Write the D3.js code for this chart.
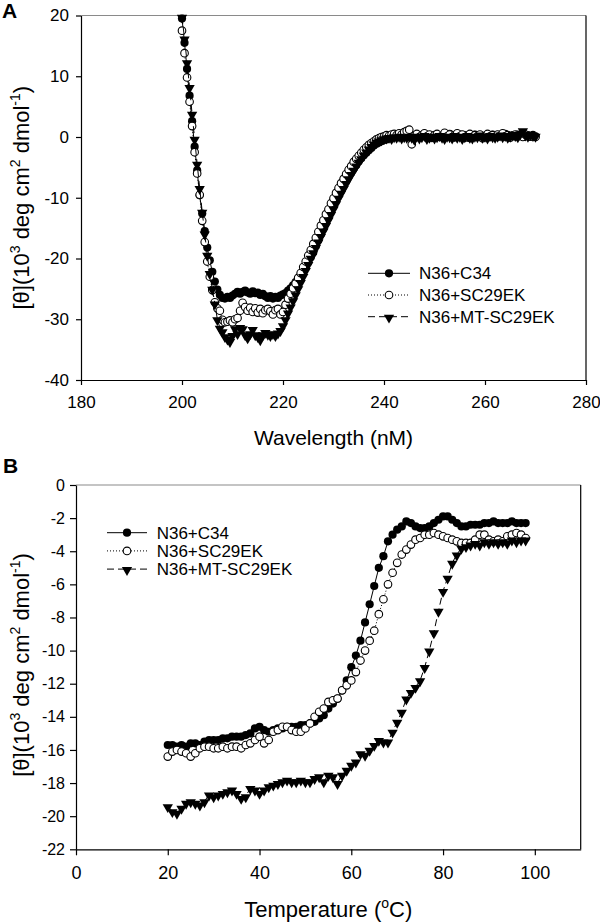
<!DOCTYPE html>
<html><head><meta charset="utf-8">
<script src="https://cdn.jsdelivr.net/npm/d3@7"></script>
<style>
body{margin:0;background:#fff}
svg{display:block}
text{font-family:"Liberation Sans",Arial,Helvetica,sans-serif;fill:#000}
</style>
</head><body>
<svg id="chart" width="600" height="923"></svg>
<script>
// ---------------- DATA ----------------
const seriesNames = ["N36+C34", "N36+SC29EK", "N36+MT-SC29EK"];

// Panel A: CD spectra
const wavelength = [
200,200.5,201,201.5,202,202.5,203,203.5,204,204.5,
205,205.5,206,206.5,207,207.5,208,208.5,209,209.5,
210,210.5,211,211.5,212,212.5,213,213.5,214,214.5,
215,215.5,216,216.5,217,217.5,218,218.5,219,219.5,
220,220.5,221,221.5,222,222.5,223,223.5,224,224.5,
225,225.5,226,226.5,227,227.5,228,228.5,229,229.5,
230,230.5,231,231.5,232,232.5,233,233.5,234,234.5,
235,235.5,236,236.5,237,237.5,238,238.5,239,239.5,
240,240.5,241,241.5,242,242.5,243,243.5,244,244.5,
245,245.5,246,246.5,247,247.5,248,248.5,249,249.5,
250,250.5,251,251.5,252,252.5,253,253.5,254,254.5,
255,255.5,256,256.5,257,257.5,258,258.5,259,259.5,
260,260.5,261,261.5,262,262.5,263,263.5,264,264.5,
265,265.5,266,266.5,267,267.5,268,268.5,269,269.5,
270];
const cdC34 = [
19.5,15.5,11.2,6.8,2.6,-1.6,-5.5,-9.6,-12.6,-15.5,-18.2,-20.3,-22.2,-23.8,-25.1,-26.0,-26.5,
-26.6,-26.3,-26.5,-26.1,-25.8,-25.5,-25.8,-25.5,-25.3,-25.6,-25.8,-25.4,-25.7,-25.6,-26.0,-25.8,-26.2,-26.5,-26.2,-26.6,-26.3,-26.5,-26.1,-25.9,
-25.7,-25.3,-24.9,-24.4,-23.9,-23.4,-22.8,-22.1,-21.4,-20.6,
-19.8,-19.0,-18.0,-17.0,-16.0,-15.0,-14.0,-13.0,-12.0,-11.0,
-10.2,-9.3,-8.5,-7.8,-7.1,-6.4,-5.8,-5.2,-4.6,-4.0,
-3.5,-3.0,-2.6,-2.2,-1.8,-1.4,-1.1,-0.9,-0.7,-0.5,
-0.4,-0.2,-0.1,0.0,0.1,0.2,0.1,0.3,0.2,0.4,
0.3,0.1,0.4,0.0,0.2,0.5,0.1,0.3,-0.1,0.2,
0.4,0.1,0.0,0.3,0.2,0.5,0.1,-0.1,0.2,0.4,
0.0,0.3,0.1,-0.2,0.2,0.4,0.1,0.3,0.0,0.2,
-0.1,0.1,0.4,0.2,0.0,0.3,0.1,0.5,0.2,0.0,
0.3,0.1,0.4,0.2,0.6,0.1,0.3,0.0,0.2,0.1];
const cdSC29EK = [
17.5,13.8,9.8,5.8,1.8,-2.5,-6.0,-9.5,-13.8,-17.3,-20.5,-23.0,-25.2,-27.2,-28.2,-28.6,-30.1,
-30.5,-30.4,-30.2,-30.5,-30.0,-29.8,-28.6,-27.3,-28.0,-28.6,-28.1,-28.8,-28.2,-28.9,-28.3,-29.0,-28.5,-28.3,-28.7,-29.2,-28.5,-28.3,-29.2,-28.8,
-27.6,-26.6,-25.8,-24.9,-24.1,-23.2,-22.4,-21.4,-20.5,-19.5,
-18.6,-17.6,-16.6,-15.6,-14.6,-13.7,-12.7,-11.9,-10.9,-10.1,
-9.2,-8.4,-7.6,-6.9,-6.1,-5.4,-4.8,-4.1,-3.6,-3.1,
-2.6,-2.1,-1.7,-1.3,-1.0,-0.7,-0.4,-0.2,0.0,0.1,
0.3,0.2,0.4,0.5,0.3,0.6,0.4,0.8,1.0,1.2,
-1.2,0.2,0.5,0.0,0.3,0.6,0.1,0.4,-0.1,0.3,
0.5,0.0,0.2,0.7,0.1,0.4,0.0,0.3,0.6,0.1,
0.4,-0.1,0.2,0.5,0.0,0.3,0.1,0.4,-0.2,0.2,
0.5,0.1,0.3,0.0,0.4,0.2,0.6,0.1,0.3,-0.1,
0.2,0.4,0.1,0.3,0.0,0.4,0.2,0.1,0.3,0.0];
const cdMT = [
19.8,16.2,12.3,8.2,3.8,-0.3,-4.4,-8.4,-12.3,-15.9,-19.4,-22.4,-25.0,-27.4,-30.0,-31.4,-32.0,
-32.8,-33.2,-33.6,-32.6,-31.5,-32.3,-31.3,-31.5,-32.5,-33.0,-32.3,-31.6,-32.5,-32.8,-33.3,-32.5,-32.1,-32.4,-32.6,-32.3,-32.6,-32.2,-31.8,-31.0,
-30.0,-28.9,-27.9,-26.9,-25.9,-24.9,-23.9,-22.9,-21.9,-20.9,
-19.9,-19.0,-18.1,-17.2,-16.3,-15.4,-14.5,-13.6,-12.7,-11.8,
-10.9,-10.0,-9.2,-8.4,-7.6,-6.8,-6.1,-5.4,-4.7,-4.1,
-3.5,-2.9,-2.4,-1.9,-1.5,-1.1,-0.8,-0.6,-0.4,-0.2,
-0.1,0.0,-0.2,0.1,0.0,0.2,-0.1,0.1,0.0,0.2,
0.0,-0.3,0.2,-0.1,0.1,0.3,-0.2,0.0,0.2,-0.1,
0.1,0.3,0.0,-0.2,0.2,0.1,-0.1,0.3,0.0,0.2,
-0.2,0.1,0.3,0.0,-0.1,0.2,0.1,0.4,0.0,0.2,
-0.1,0.3,0.1,0.0,0.2,0.4,0.1,0.3,0.0,0.2,
0.5,0.3,0.1,0.6,1.1,0.4,0.2,0.5,0.3,0.2];

// Panel B: thermal melts
const temperature = [
20,21,22,23,24,25,26,27,28,29,
30,31,32,33,34,35,36,37,38,39,
40,41,42,43,44,45,46,47,48,49,
50,51,52,53,54,55,56,57,58,59,
60,61,62,63,64,65,66,67,68,69,
70,71,72,73,74,75,76,77,78,79,
80,81,82,83,84,85,86,87,88,89,
90,91,92,93,94,95,96,97,98];
const meltC34 = [
-15.7,-15.7,-15.8,-15.7,-15.8,-15.6,-15.6,-15.7,-15.5,-15.4,
-15.4,-15.4,-15.3,-15.3,-15.2,-15.2,-15.2,-15.1,-15.0,-14.7,
-14.6,-14.8,-14.9,-14.8,-14.7,-14.7,-14.6,-14.6,-14.6,-14.5,
-14.5,-14.4,-14.3,-14.1,-13.9,-13.5,-13.2,-12.9,-12.4,-11.8,
-11.0,-10.3,-9.4,-8.3,-7.2,-6.1,-5.0,-4.3,-3.4,-3.0,
-2.7,-2.5,-2.2,-2.3,-2.5,-2.6,-2.6,-2.5,-2.3,-2.1,
-1.9,-1.9,-2.1,-2.3,-2.5,-2.5,-2.4,-2.4,-2.4,-2.3,
-2.3,-2.2,-2.3,-2.3,-2.3,-2.2,-2.3,-2.3,-2.3];
const meltSC29EK = [
-16.4,-16.1,-16.0,-16.1,-16.2,-16.4,-16.2,-15.9,-15.8,-15.8,
-15.9,-15.9,-15.8,-15.9,-15.8,-15.8,-15.9,-15.7,-15.6,-15.4,
-15.2,-15.6,-15.4,-14.9,-14.8,-14.6,-14.6,-14.8,-14.9,-14.9,
-14.7,-14.4,-14.0,-13.7,-13.5,-13.1,-13.0,-12.9,-12.4,-12.1,
-11.8,-11.3,-10.6,-10.0,-9.4,-8.8,-7.8,-6.9,-6.0,-5.3,
-4.7,-4.2,-3.9,-3.6,-3.3,-3.2,-3.0,-3.0,-2.9,-3.0,
-3.1,-3.2,-3.3,-3.4,-3.5,-3.5,-3.5,-3.3,-3.0,-3.0,
-3.3,-3.4,-3.3,-3.4,-3.1,-3.0,-2.9,-3.0,-3.2];
const meltMT = [
-19.4,-19.7,-19.8,-19.5,-19.2,-19.1,-19.2,-19.3,-19.1,-18.7,
-18.8,-18.7,-18.6,-18.5,-18.4,-18.6,-18.9,-18.8,-18.3,-18.4,
-18.6,-18.4,-18.2,-18.1,-18.0,-17.9,-17.8,-17.9,-17.9,-17.8,
-17.9,-17.9,-17.7,-17.6,-17.9,-17.5,-17.6,-18.0,-17.5,-17.2,
-16.9,-16.7,-16.2,-16.3,-16.0,-15.7,-15.4,-15.5,-15.5,-14.9,
-14.3,-13.7,-12.9,-12.5,-12.2,-11.8,-11.0,-10.0,-8.9,-7.6,
-6.4,-5.6,-4.7,-4.2,-3.8,-3.7,-3.6,-3.5,-3.6,-3.4,
-3.5,-3.4,-3.5,-3.4,-3.5,-3.3,-3.4,-3.3,-3.3];

// Tick values
const aXTicks = [180, 200, 220, 240, 260, 280];
const aYTicks = [-40, -30, -20, -10, 0, 10, 20];
const bXTicks = [0, 20, 40, 60, 80, 100];
const bYTicks = [-22, -20, -18, -16, -14, -12, -10, -8, -6, -4, -2, 0];

// ---------------- DRAWING ----------------
const svg = d3.select("#chart");
const font = '"Liberation Sans",Arial,Helvetica,sans-serif';
const styles = [
  {marker: "filled", dash: null},
  {marker: "open", dash: "1,2"},
  {marker: "tri", dash: "7,4"}
];
const triPath = d3.symbol(d3.symbolTriangle, 46)();

function drawMarker(g, kind, x, y) {
  if (kind === "filled") {
    g.append("circle").attr("cx", x).attr("cy", y).attr("r", 4.1).attr("fill", "#000");
  } else if (kind === "open") {
    g.append("circle").attr("cx", x).attr("cy", y).attr("r", 3.8)
      .attr("fill", "#fff").attr("stroke", "#000").attr("stroke-width", 1.1);
  } else {
    g.append("path").attr("d", triPath)
      .attr("transform", `translate(${x},${y + 0.9}) rotate(180)`).attr("fill", "#000");
  }
}

function addYTitle(x, y, size) {
  const t = svg.append("text").attr("transform", `translate(${x},${y}) rotate(-90)`)
    .attr("text-anchor", "middle").attr("font-size", size);
  const sup = Math.round(size * 0.62), up = Math.round(size * 0.42);
  t.append("tspan").text("[θ](10");
  t.append("tspan").attr("font-size", sup).attr("dy", -up).text("3");
  t.append("tspan").attr("dy", up).text(" deg cm");
  t.append("tspan").attr("font-size", sup).attr("dy", -up).text("2");
  t.append("tspan").attr("dy", up).text(" dmol");
  t.append("tspan").attr("font-size", sup).attr("dy", -up).text("-1");
  t.append("tspan").attr("dy", up).text(")");
}

function panel(cfg) {
  const x = d3.scaleLinear().domain(cfg.xDomain).range([cfg.left, cfg.right]);
  const y = d3.scaleLinear().domain(cfg.yDomain).range([cfg.bottom, cfg.top]);
  const g = svg.append("g");

  // frame: top (grey) and right (black)
  g.append("line").attr("x1", cfg.left).attr("x2", cfg.right).attr("y1", cfg.top).attr("y2", cfg.top)
    .attr("stroke", "#8a8a8a").attr("stroke-width", 1.2);
  g.append("line").attr("x1", cfg.right).attr("x2", cfg.right).attr("y1", cfg.top).attr("y2", cfg.bottom)
    .attr("stroke", "#000").attr("stroke-width", 1.2);

  const fmt = d => String(d);
  const xa = g.append("g").attr("transform", `translate(0,${cfg.bottom})`)
    .call(d3.axisBottom(x).tickValues(cfg.xTicks).tickFormat(fmt).tickSizeInner(cfg.tick).tickSizeOuter(0).tickPadding(cfg.xPad));
  const ya = g.append("g").attr("transform", `translate(${cfg.left},0)`)
    .call(d3.axisLeft(y).tickValues(cfg.yTicks).tickFormat(fmt).tickSizeInner(cfg.tick).tickSizeOuter(0).tickPadding(cfg.yPad));
  [xa, ya].forEach(a => {
    a.attr("font-family", font);
    a.selectAll("path,line").attr("stroke", "#000").attr("stroke-width", 1.2);
  });
  xa.attr("font-size", cfg.xTickSize);
  ya.attr("font-size", cfg.yTickSize);

  // series
  cfg.series.forEach((vals, i) => {
    const pts = cfg.xs.map((xv, j) => [x(xv), y(vals[j])]);
    g.append("path").attr("d", d3.line()(pts)).attr("fill", "none")
      .attr("stroke", "#000").attr("stroke-width", 1)
      .attr("stroke-dasharray", styles[i].dash);
    const mg = g.append("g");
    pts.forEach(p => drawMarker(mg, styles[i].marker, p[0], p[1]));
  });

  // legend
  const lg = g.append("g");
  seriesNames.forEach((name, i) => {
    const yy = cfg.legY + i * cfg.legStep;
    lg.append("line").attr("x1", cfg.legX1).attr("x2", cfg.legX2).attr("y1", yy).attr("y2", yy)
      .attr("stroke", "#000").attr("stroke-width", 1).attr("stroke-dasharray", styles[i].dash);
    drawMarker(lg, styles[i].marker, (cfg.legX1 + cfg.legX2) / 2, yy);
    lg.append("text").attr("x", cfg.legText).attr("y", yy + 6).attr("font-size", cfg.legSize).text(name);
  });

  // panel letter
  svg.append("text").attr("x", cfg.letterX).attr("y", cfg.letterY).attr("font-size", 21)
    .attr("font-weight", "bold").text(cfg.letter);

  return {x, y};
}

panel({
  letter: "A", letterX: 2, letterY: 18,
  xDomain: [180, 280], yDomain: [-40, 20],
  left: 81, right: 586, top: 15.5, bottom: 380,
  xTicks: aXTicks, yTicks: aYTicks, tick: 5, xPad: 11, yPad: 7,
  xTickSize: 17, yTickSize: 17,
  xs: wavelength, series: [cdC34, cdSC29EK, cdMT],
  legX1: 368, legX2: 410, legText: 419, legY: 273.3, legStep: 21.7, legSize: 17
});
svg.append("text").attr("x", 333.5).attr("y", 445).attr("text-anchor", "middle")
  .attr("font-size", 21).text("Wavelength (nM)");
addYTitle(29, 197.7, 22);

panel({
  letter: "B", letterX: 3, letterY: 473,
  xDomain: [0, 110], yDomain: [-22, 0],
  left: 76, right: 580.7, top: 485, bottom: 849.3,
  xTicks: bXTicks, yTicks: bYTicks, tick: 6, xPad: 11, yPad: 5,
  xTickSize: 18, yTickSize: 16,
  xs: temperature, series: [meltC34, meltSC29EK, meltMT],
  legX1: 107, legX2: 147, legText: 156.7, legY: 532.7, legStep: 18.2, legSize: 17
});
const bt = svg.append("text").attr("x", 328.3).attr("y", 917).attr("text-anchor", "middle").attr("font-size", 22);
bt.append("tspan").text("Temperature (");
bt.append("tspan").attr("font-size", 14).attr("dy", -9).text("o");
bt.append("tspan").attr("dy", 9).text("C)");
addYTitle(29, 665, 22);
</script>
</body></html>
